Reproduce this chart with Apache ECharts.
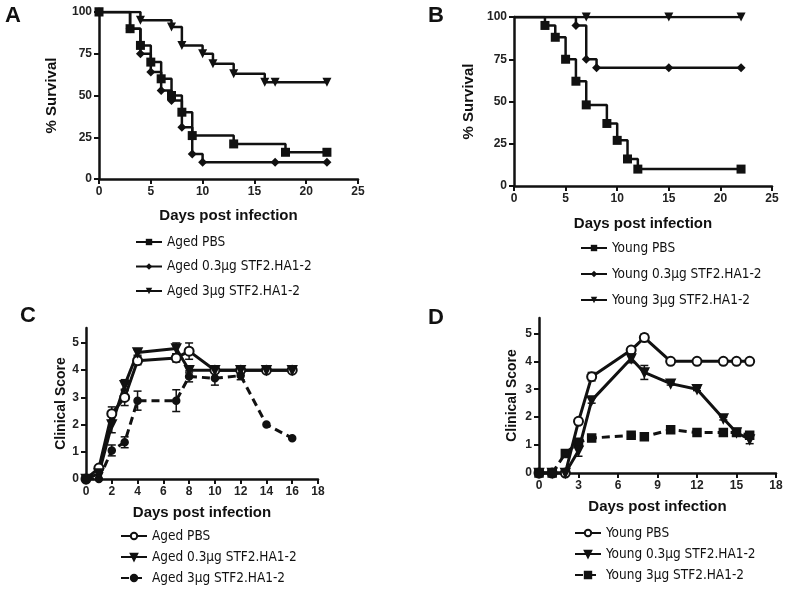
<!DOCTYPE html>
<html><head><meta charset="utf-8">
<script src="https://cdn.jsdelivr.net/npm/echarts@6/dist/echarts.min.js"></script>
<style>html,body{margin:0;padding:0;background:#fff}#c{width:800px;height:590px}</style>
</head><body><div id="c"></div>
<script>
// ---- Panel A: aged survival ----
const aDaysPBS = [0,3,4,5,6,7,8,9,13,18,22];
const aSurvPBS = [100,90,80,70,60,50,40,26,21,16,16];
const aDays03 = [0,3,4,5,6,7,8,9,10,17,22];
const aSurv03 = [100,90,75,64,53,47,31,15,10,10,10];
const aDays3 = [0,4,7,8,10,11,13,16,17,22];
const aSurv3 = [100,95,91,80,75,69,63,58,58,58];
// ---- Panel B: young survival ----
const bDaysPBS = [0,3,4,5,6,7,9,10,11,12,22];
const bSurvPBS = [100,95,88,75,62,48,37,27,16,10,10];
const bDays03 = [0,6,7,8,15,22];
const bSurv03 = [100,95,75,70,70,70];
const bDays3 = [0,7,15,22];
const bSurv3 = [100,100,100,100];
// ---- Panel C: aged clinical score ----
const cDays = [0,1,2,3,4,7,8,10,12,14,16];
const cPBS = [0,0.4,2.4,3.0,4.35,4.45,4.7,4.0,4.0,4.0,4.0];
const cPBSErr = [0,0,0.25,0.3,0.15,0.15,0.3,0,0,0,0];
const c03 = [0,0.2,2.0,3.45,4.65,4.8,4.0,4.0,4.0,4.0,4.0];
const c03Err = [0,0,0.3,0.2,0.1,0.2,0.1,0.1,0,0,0];
const c3 = [0,0,1.05,1.35,2.88,2.88,3.77,3.7,3.8,2.0,1.5];
const c3Err = [0,0,0.2,0.2,0.35,0.4,0.2,0.25,0.15,0,0];
// ---- Panel D: young clinical score ----
const dDays = [0,1,2,3,4,7,8,10,12,14,15,16];
const dPBS = [0,0,0,1.85,3.45,4.4,4.85,4.0,4.0,4.0,4.0,4.0];
const dPBSErr = [0,0,0,0.1,0.15,0.1,0.12,0,0,0,0,0];
const d03 = [0,0,0,0.8,2.6,4.1,3.6,3.2,3.0,1.95,1.45,1.2];
const d03Err = [0,0,0,0.2,0.1,0.15,0.25,0.05,0.05,0.05,0.1,0.15];
const d3 = [0,0,0.7,1.1,1.25,1.35,1.3,1.55,1.45,1.45,1.45,1.35];
const d3Err = [0,0,0.05,0.1,0.05,0.05,0.05,0.05,0.05,0.05,0.05,0.1];
// ---- tick labels ----
const survTicks = [0,25,50,75,100];
const survDayTicks = [0,5,10,15,20,25];
const scoreTicks = [0,1,2,3,4,5];
const cDayTicks = [0,2,4,6,8,10,12,14,16,18];
const dDayTicks = [0,3,6,9,12,15,18];
// ---- names ----
const namesA = ['Aged PBS','Aged 0.3μg STF2.HA1-2','Aged 3μg STF2.HA1-2'];
const namesB = ['Young PBS','Young 0.3μg STF2.HA1-2','Young 3μg STF2.HA1-2'];
const namesC = ['Aged PBS ','Aged 0.3μg STF2.HA1-2 ','Aged 3μg STF2.HA1-2 '];
const namesD = ['Young PBS ','Young 0.3μg STF2.HA1-2 ','Young 3μg STF2.HA1-2 '];

const FONT = "'Liberation Sans', Arial, sans-serif";
const NARROW = "'Liberation Sans Narrow', 'DejaVu Sans Condensed', 'Liberation Sans', sans-serif";
const INK = '#111';

const zip = (xs, ys) => xs.map((x, i) => [x, ys[i]]);

function xAx(gi, max, ticks, nameGap) {
  return {
    type: 'value', gridIndex: gi, min: 0, max: max, interval: ticks[1] - ticks[0],
    name: 'Days post infection', nameLocation: 'middle', nameGap: nameGap,
    nameTextStyle: { fontFamily: FONT, fontWeight: 'bold', fontSize: 15, color: INK },
    axisLine: { onZero: false, lineStyle: { color: INK, width: 2.5 } },
    axisTick: { length: 5, lineStyle: { color: INK, width: 2 } },
    axisLabel: { margin: 7, fontFamily: FONT, fontSize: 12, fontWeight: 'bold', color: '#222' },
    splitLine: { show: false }
  };
}
function yAx(gi, min, max, ticks, name, nameGap, nameSize) {
  return {
    type: 'value', gridIndex: gi, min: min, max: max,
    name: name, nameLocation: 'middle', nameGap: nameGap,
    nameTextStyle: { fontFamily: FONT, fontWeight: 'bold', fontSize: nameSize, color: INK },
    axisLine: { onZero: false, lineStyle: { color: INK, width: 2.5 } },
    axisTick: { length: 5, lineStyle: { color: INK, width: 2 }, customValues: ticks },
    axisLabel: { margin: 7, fontFamily: FONT, fontSize: 12, fontWeight: 'bold', color: '#222', customValues: ticks,
      formatter: v => (ticks.indexOf(v) >= 0 ? String(v) : '') },
    splitLine: { show: false }
  };
}

function surv(name, gi, days, vals, symbol, rotate, showFirst) {
  const data = zip(days, vals).map((p, i) => (i === 0 && !showFirst) ? { value: p, symbol: 'none' } : p);
  return {
    type: 'line', name: name, xAxisIndex: gi, yAxisIndex: gi, step: 'end',
    data: data, symbol: symbol, symbolRotate: rotate, symbolSize: 9,
    itemStyle: { color: INK }, lineStyle: { color: INK, width: 2.5 },
    animation: false, z: 3
  };
}
function score(name, gi, days, vals, symbol, rotate, size, dashed) {
  return {
    type: 'line', name: name, xAxisIndex: gi, yAxisIndex: gi,
    data: zip(days, vals), symbol: symbol, symbolRotate: rotate, symbolSize: size,
    itemStyle: { color: INK, borderColor: INK, borderWidth: 1.5 },
    lineStyle: { color: INK, width: 3, type: dashed ? [8, 5] : 'solid' },
    animation: false, z: 3
  };
}
function errs(gi, days, vals, e) {
  const data = [];
  days.forEach((d, i) => { if (e[i] > 0) data.push([d, vals[i] - e[i], vals[i] + e[i]]); });
  return {
    type: 'custom', xAxisIndex: gi, yAxisIndex: gi, silent: true, animation: false, z: 2,
    encode: { x: 0, y: [1, 2] }, data: data,
    renderItem: (params, api) => {
      const x = api.value(0);
      const lo = api.coord([x, api.value(1)]);
      const hi = api.coord([x, api.value(2)]);
      const w = 4, st = { stroke: INK, lineWidth: 1.5 };
      return { type: 'group', children: [
        { type: 'line', shape: { x1: lo[0], y1: lo[1], x2: hi[0], y2: hi[1] }, style: st },
        { type: 'line', shape: { x1: lo[0] - w, y1: lo[1], x2: lo[0] + w, y2: lo[1] }, style: st },
        { type: 'line', shape: { x1: hi[0] - w, y1: hi[1], x2: hi[0] + w, y2: hi[1] }, style: st }
      ]};
    }
  };
}
function legend(names, left, top, gap) {
  return {
    data: names, orient: 'vertical', left: left, top: top, itemGap: gap, padding: 0,
    itemWidth: 26, itemHeight: 8, selectedMode: false,
    textStyle: { fontFamily: NARROW, fontSize: 13.5, color: INK, lineHeight: 16 },
    formatter: n => n.trim()
  };
}
function letter(t, left, top) {
  return { text: t, left: left, top: top, textStyle: { fontFamily: FONT, fontSize: 22, fontWeight: 'bold', color: INK } };
}

const chart = echarts.init(document.getElementById('c'), null, { renderer: 'canvas' });
chart.setOption({
  backgroundColor: '#fff',
  animation: false,
  title: [letter('A', 0, 0), letter('B', 423, 0), letter('C', 15, 300), letter('D', 423, 302)],
  grid: [
    { left: 99, top: 12, width: 259, height: 167 },
    { left: 514, top: 17, width: 258, height: 169 },
    { left: 86, top: 328, width: 232, height: 151 },
    { left: 539, top: 318, width: 237, height: 155 }
  ],
  xAxis: [xAx(0, 25, survDayTicks, 29), xAx(1, 25, survDayTicks, 30), xAx(2, 18, cDayTicks, 26), xAx(3, 18, dDayTicks, 26)],
  yAxis: [
    Object.assign(yAx(0, 0, 100, survTicks, '% Survival', 40, 15), { interval: 25 }),
    Object.assign(yAx(1, 0, 100, survTicks, '% Survival', 38, 15), { interval: 25 }),
    yAx(2, 0, 5.55, scoreTicks, 'Clinical Score', 18, 14),
    yAx(3, 0, 5.55, scoreTicks, 'Clinical Score', 20, 14)
  ],
  legend: [
    legend(namesA, 135, 234, 8.5),
    legend(namesB, 580, 240, 10),
    legend(namesC, 120, 528, 5),
    legend(namesD, 574, 525, 5)
  ],
  series: [
    surv(namesA[0], 0, aDaysPBS, aSurvPBS, 'rect', 0, true),
    surv(namesA[1], 0, aDays03, aSurv03, 'diamond', 0, true),
    surv(namesA[2], 0, aDays3, aSurv3, 'triangle', 180, true),
    surv(namesB[0], 1, bDaysPBS, bSurvPBS, 'rect', 0, false),
    surv(namesB[1], 1, bDays03, bSurv03, 'diamond', 0, false),
    surv(namesB[2], 1, bDays3, bSurv3, 'triangle', 180, false),
    errs(2, cDays, cPBS, cPBSErr), errs(2, cDays, c03, c03Err), errs(2, cDays, c3, c3Err),
    score(namesC[0], 2, cDays, cPBS, 'emptyCircle', 0, 9, false),
    score(namesC[1], 2, cDays, c03, 'triangle', 180, 9, false),
    score(namesC[2], 2, cDays, c3, 'circle', 0, 7, true),
    errs(3, dDays, dPBS, dPBSErr), errs(3, dDays, d03, d03Err), errs(3, dDays, d3, d3Err),
    score(namesD[0], 3, dDays, dPBS, 'emptyCircle', 0, 9, false),
    score(namesD[1], 3, dDays, d03, 'triangle', 180, 9, false),
    score(namesD[2], 3, dDays, d3, 'rect', 0, 8, true)
  ]
});
</script></body></html>
